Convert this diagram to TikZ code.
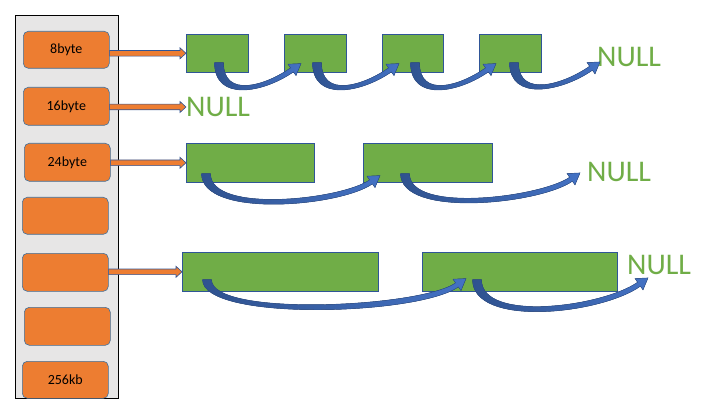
\documentclass[tikz,border=0pt]{standalone}
\usepackage{fontspec}
\setmainfont{Carlito}
\usepackage{tikz}
\usetikzlibrary{calc}

\definecolor{slotorange}{HTML}{ED7D31}
\definecolor{slotedge}{HTML}{41719C}
\definecolor{blockgreen}{HTML}{70AD47}
\definecolor{blockedge}{HTML}{2F5597}
\definecolor{linkblue}{HTML}{4472C4}
\definecolor{linkedge}{HTML}{2F528F}
\definecolor{panelgray}{HTML}{E7E6E6}

\tikzset{
  slot/.style={rectangle, rounded corners=5pt, fill=slotorange, draw=slotedge, line width=0.6pt, anchor=north west, inner sep=0pt, minimum width=86pt, minimum height=37pt, font=\fontsize{14}{16}\selectfont},
  block/.style={rectangle, fill=blockgreen, draw=blockedge, line width=0.6pt, anchor=north west, inner sep=0pt, minimum height=38pt},
  nul/.style={text=blockgreen, inner sep=0pt, anchor=west, font=\fontsize{30}{32}\selectfont},
  feed/.style={fill=slotorange, draw=blockedge, line width=0.6pt},
  link/.style={left color=linkedge, right color=linkblue, draw=linkedge, line width=0.4pt}
}

% orange block arrow from a slot to a list head
\newcommand{\feedarrow}[2]{%
  \filldraw[feed] ($(#1)+(0,-2.8)$) -- ($(#2)+(-6,-2.8)$) -- ($(#2)+(-6,-5.5)$) -- (#2)
    -- ($(#2)+(-6,5.5)$) -- ($(#2)+(-6,2.8)$) -- ($(#1)+(0,2.8)$) -- cycle;}
% curved link arrow: start, tip, depth, pull
\newcommand{\bendarrow}[4]{%
  \filldraw[link] ($(#1)+(-4.5,0)$) .. controls +(0,#3) and +(-0.819*#4,0.574*#4) .. ($(#2)+(-7.6,8.3)$)
    -- ($(#2)+(-5,12)$) -- (#2) -- ($(#2)+(-13,0.6)$) -- ($(#2)+(-10.4,4.3)$)
    .. controls +(-0.7*#4,0.49*#4) and +(0,0.9*#3) .. ($(#1)+(4.5,0)$) -- cycle;}

\begin{document}
\begin{tikzpicture}[x=1pt, y=-1pt]
\useasboundingbox (0,0) rectangle (704,406);

% free list heads
\filldraw[fill=panelgray, draw=black, line width=0.6pt] (15,15) rectangle (118,398);
\node[slot] (o1) at (23,31) {8byte};
\node[slot, minimum height=38pt] (o2) at (23,87) {16byte};
\node[slot, minimum height=38pt] (o3) at (24,143) {24byte};
\node[slot] (o4) at (22,197) {};
\node[slot, minimum height=38pt] (o5) at (22,253) {};
\node[slot, minimum height=38pt] (o6) at (24,307) {};
\node[slot] (o7) at (22,361) {256kb};

% 8 byte list
\node[block, minimum width=62pt] (r1a) at (186,34) {};
\node[block, minimum width=62pt] (r1b) at (284,34) {};
\node[block, minimum width=61pt] (r1c) at (382,34) {};
\node[block, minimum width=62pt] (r1d) at (479,34) {};
\node[nul] (n1) at (597,57) {NULL};

% 16 byte list
\node[nul] (n2) at (186,107) {NULL};

% 24 byte list
\node[block, minimum width=128pt, minimum height=39pt] (r3a) at (186,143) {};
\node[block, minimum width=129pt, minimum height=39pt] (r3b) at (363,143) {};
\node[nul] (n3) at (587,172) {NULL};

% big list
\node[block, minimum width=196pt, minimum height=39pt] (r5a) at (182,252) {};
\node[block, minimum width=195pt, minimum height=39pt] (r5b) at (422,252) {};
\node[nul] (n5) at (627,265) {NULL};

% slot arrows
\feedarrow{o1.east |- r1a.west}{r1a.west}
\feedarrow{o2.east |- n2.west}{n2.west}
\feedarrow{o3.east |- r3a.west}{r3a.west}
\feedarrow{o5.east |- r5a.west}{r5a.west}

% links
\foreach \u/\v in {r1a/r1b, r1b/r1c, r1c/r1d} {
  \coordinate (s) at ($(\u.south west)+(33,-10)$);
  \coordinate (t) at ($(\v.south west)+(17,-9)$);
  \bendarrow{s}{t}{40}{36}
}
\coordinate (s) at ($(r1d.south west)+(35,-10)$);
\coordinate (t) at ($(n1.south west)+(3,-5)$);
\bendarrow{s}{t}{40}{36}

\coordinate (s) at ($(r3a.south west)+(20,-9)$);
\coordinate (t) at ($(r3b.south west)+(17,-7)$);
\bendarrow{s}{t}{45}{40}
\coordinate (s) at ($(r3b.south west)+(42,-9)$);
\coordinate (t) at ($(n3.south west)+(-7,-9)$);
\bendarrow{s}{t}{45}{40}

\coordinate (s) at ($(r5a.south west)+(25,-12)$);
\coordinate (t) at ($(r5b.south west)+(44,-13)$);
\bendarrow{s}{t}{42}{50}
\coordinate (s) at ($(r5b.south west)+(55,-12)$);
\coordinate (t) at ($(n5.south west)+(21,3)$);
\bendarrow{s}{t}{48}{50}
\end{tikzpicture}
\end{document}
